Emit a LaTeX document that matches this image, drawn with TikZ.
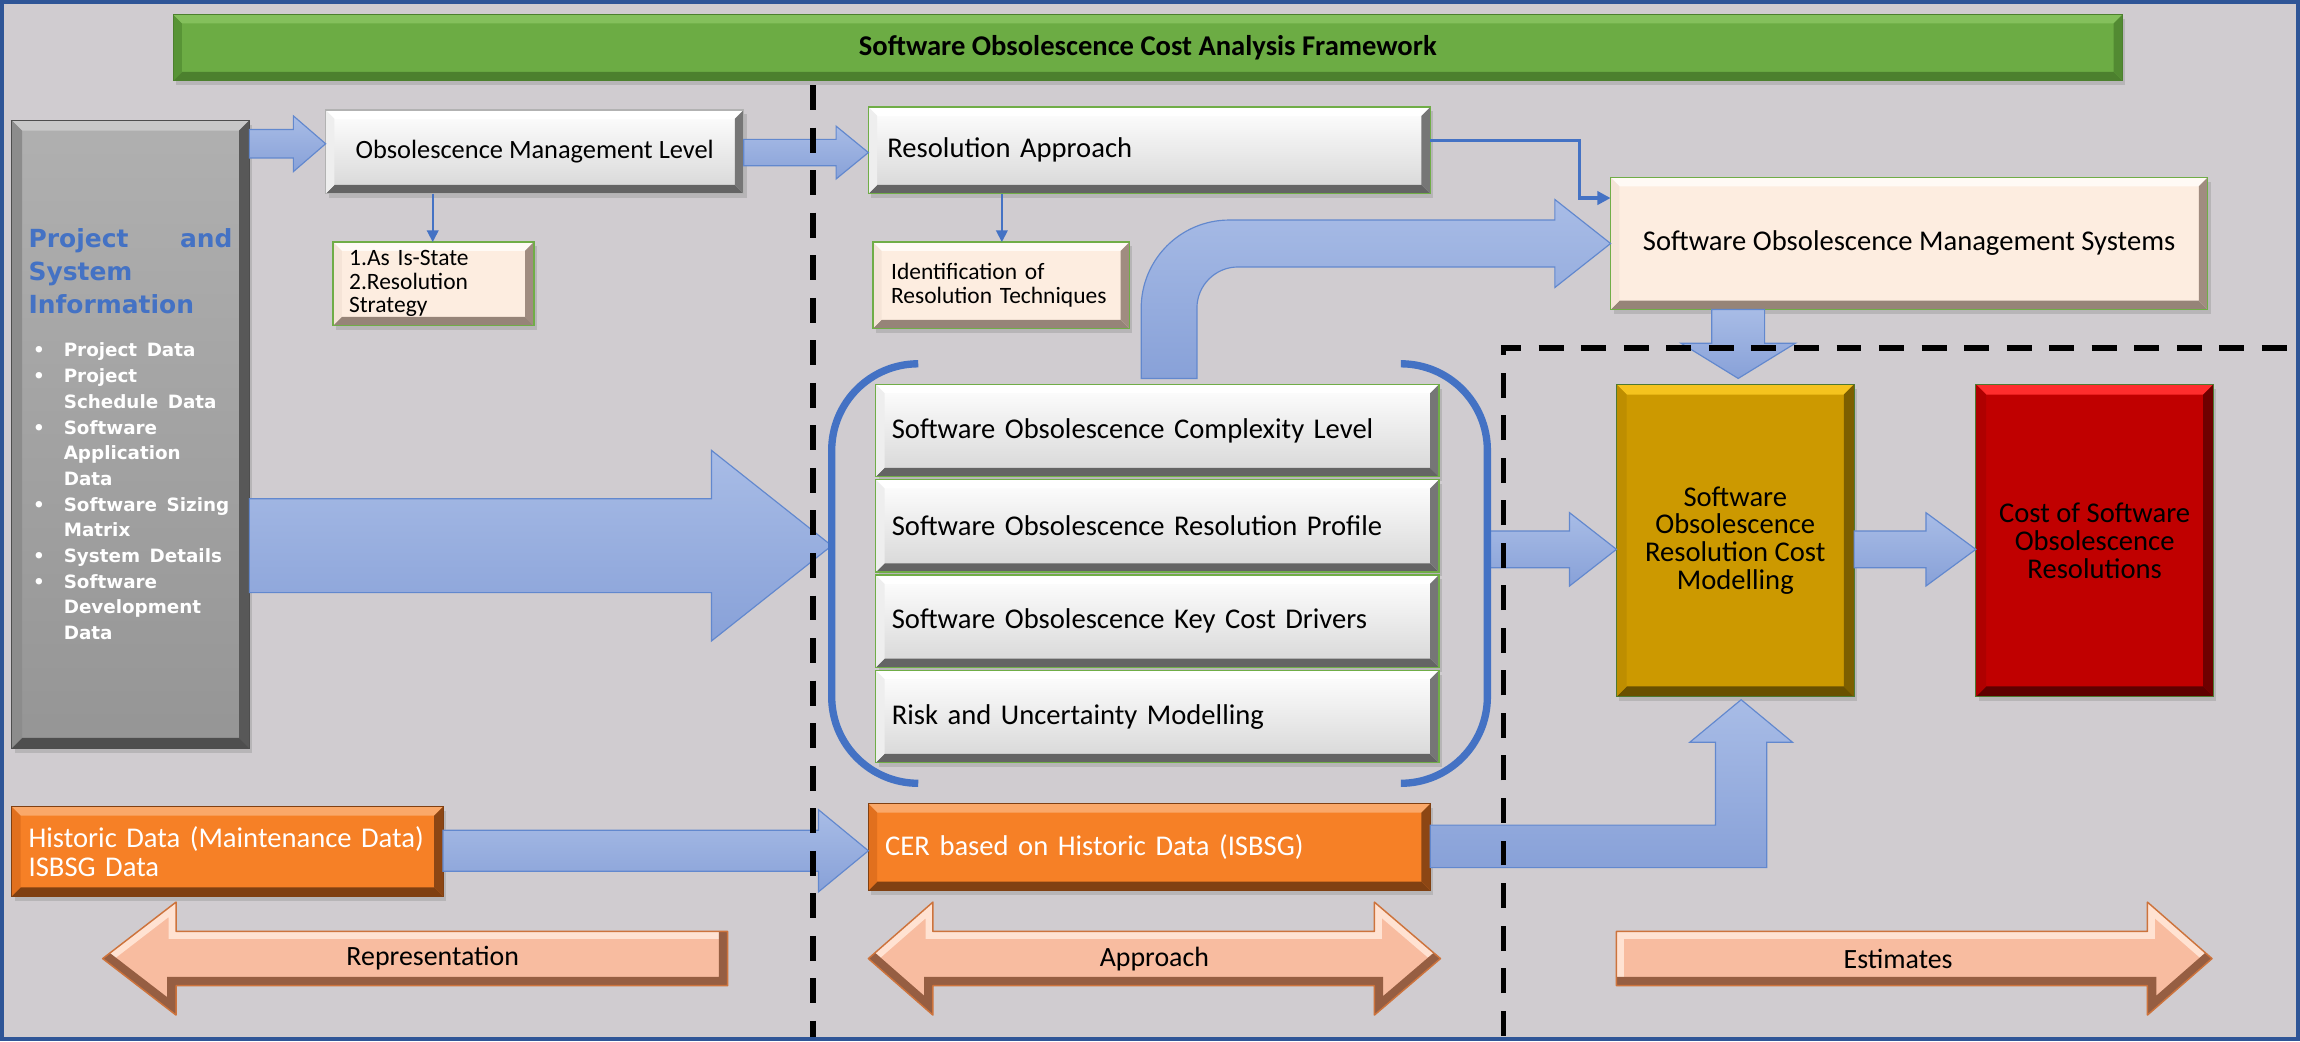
\documentclass[tikz,border=0pt]{standalone}
\usepackage{fontspec}
\setmainfont{Carlito}
\newfontfamily\infofont{DejaVu Sans}
\usetikzlibrary{arrows.meta,calc,shadows}

\definecolor{bgcol}{RGB}{208,204,208}
\definecolor{framecol}{RGB}{47,85,151}
\definecolor{linkblue}{RGB}{68,114,196}
\definecolor{arrowtop}{RGB}{168,188,230}
\definecolor{arrowbot}{RGB}{136,161,216}
\definecolor{arrowedge}{RGB}{98,136,206}
% silver boxes
\definecolor{silvbody}{RGB}{214,214,214}
\definecolor{silvleft}{RGB}{238,238,238}
\definecolor{silvright}{RGB}{118,118,118}
\definecolor{silvbottom}{RGB}{100,100,100}
\definecolor{boxgreen}{RGB}{112,173,71}
% peach boxes
\definecolor{peach}{RGB}{253,237,224}
\definecolor{peachtop}{RGB}{255,250,245}
\definecolor{peachbottom}{RGB}{150,132,120}
\definecolor{peachright}{RGB}{160,140,128}
\definecolor{peachleft}{RGB}{245,228,215}
% gold box
\definecolor{goldbody}{RGB}{204,153,0}
\definecolor{goldtop}{RGB}{245,195,30}
\definecolor{goldbottom}{RGB}{105,80,0}
\definecolor{goldleft}{RGB}{190,142,0}
\definecolor{goldright}{RGB}{125,95,0}
% red box
\definecolor{redbody}{RGB}{192,0,0}
\definecolor{redtop}{RGB}{255,45,45}
\definecolor{redbottom}{RGB}{95,0,0}
\definecolor{redleft}{RGB}{175,0,0}
\definecolor{redright}{RGB}{110,0,0}
% orange boxes
\definecolor{orangebody}{RGB}{246,128,38}
\definecolor{orangetop}{RGB}{250,168,105}
\definecolor{orangebottom}{RGB}{128,64,18}
\definecolor{orangeleft}{RGB}{225,112,30}
\definecolor{orangeright}{RGB}{140,70,20}
% title bar
\definecolor{greenbody}{RGB}{108,172,68}
\definecolor{greentop}{RGB}{132,192,92}
\definecolor{greenbottom}{RGB}{76,128,46}
\definecolor{greenleft}{RGB}{88,148,54}
\definecolor{greenright}{RGB}{82,138,50}
% information panel
\definecolor{graybody}{RGB}{162,162,162}
\definecolor{graytop}{RGB}{200,200,200}
\definecolor{graybottom}{RGB}{78,78,78}
\definecolor{grayleft}{RGB}{140,140,140}
\definecolor{grayright}{RGB}{88,88,88}
\definecolor{infoblue}{RGB}{68,114,196}
% phase arrows
\definecolor{salmon}{RGB}{248,188,160}
\definecolor{salmonlight}{RGB}{255,226,210}
\definecolor{salmondark}{RGB}{150,94,66}
\definecolor{salmonedge}{RGB}{205,115,60}

% horizontal block arrow: start, end, shaft half width, head half width, head length
\newcommand\hblock[5]{%
  \path[blockarrow] let \p1=(#1), \p2=(#2) in
    (\x1,\y1+#3) -- (\x2-#5,\y1+#3) -- (\x2-#5,\y1+#4) -- (\x2,\y1)
    -- (\x2-#5,\y1-#4) -- (\x2-#5,\y1-#3) -- (\x1,\y1-#3) -- cycle;}

% bevelled phase arrow: outline, lit edges, shaded edges
\newcommand\phasearrow[3]{%
  \begin{scope}
    \clip #1;
    \fill[salmon] #1;
    \draw[salmonlight, line width=10pt] #2;
    \draw[salmondark, line width=12pt] #3;
  \end{scope}
  \draw[salmonedge, line width=1pt, line join=round] #1;}

% one bulleted entry of the information panel
\newcommand\infoitem[1]{\par\hangindent=24pt\hangafter=1\noindent
  \makebox[24pt][l]{\hspace{3pt}•}#1}

\begin{document}
\begin{tikzpicture}[x=1pt,y=1pt,
  bevel w/.store in=\bevw, bevel w=6,
  bevel/.style n args={4}{path picture={
    \fill[#1] (path picture bounding box.north west) -- (path picture bounding box.north east)
      -- ([shift={(-\bevw,-\bevw)}]path picture bounding box.north east)
      -- ([shift={(\bevw,-\bevw)}]path picture bounding box.north west) -- cycle;
    \fill[#2] (path picture bounding box.south west) -- (path picture bounding box.south east)
      -- ([shift={(-\bevw,\bevw)}]path picture bounding box.south east)
      -- ([shift={(\bevw,\bevw)}]path picture bounding box.south west) -- cycle;
    \fill[#3] (path picture bounding box.north west) -- (path picture bounding box.south west)
      -- ([shift={(\bevw,\bevw)}]path picture bounding box.south west)
      -- ([shift={(\bevw,-\bevw)}]path picture bounding box.north west) -- cycle;
    \fill[#4] (path picture bounding box.north east) -- (path picture bounding box.south east)
      -- ([shift={(-\bevw,\bevw)}]path picture bounding box.south east)
      -- ([shift={(-\bevw,-\bevw)}]path picture bounding box.north east) -- cycle;
  }},
  box/.style={anchor=north west, inner sep=0pt, outer sep=0pt,
    font=\fontsize{19.5}{21}\selectfont,
    drop shadow={shadow xshift=2pt, shadow yshift=-3pt, opacity=0.3}},
  silverbox/.style={box, top color=white, bottom color=silvbody, draw=boxgreen,
    line width=0.8pt, bevel={white}{silvbottom}{silvleft}{silvright}},
  peachbox/.style={box, fill=peach, draw=boxgreen, line width=1pt,
    bevel={peachtop}{peachbottom}{peachleft}{peachright}},
  goldbox/.style={box, fill=goldbody, draw=boxgreen!70!black, line width=0.8pt, bevel w=7,
    bevel={goldtop}{goldbottom}{goldleft}{goldright}},
  redbox/.style={box, fill=redbody, draw=boxgreen!70!black, line width=0.8pt, bevel w=7,
    bevel={redtop}{redbottom}{redleft}{redright}},
  orangebox/.style={box, fill=orangebody, draw=orangebottom, line width=0.6pt,
    text=white, bevel={orangetop}{orangebottom}{orangeleft}{orangeright}},
  greenbox/.style={box, fill=greenbody, draw=greenbottom, line width=0.6pt,
    bevel={greentop}{greenbottom}{greenleft}{greenright}},
  graybox/.style={box, top color=graybody!85!white, bottom color=graybody!92!black,
    draw=graybottom, line width=0.6pt, bevel w=7,
    bevel={graytop}{graybottom}{grayleft}{grayright}},
  blockarrow/.style={top color=arrowtop, bottom color=arrowbot, draw=arrowedge, line width=0.8pt},
  thinlink/.style={draw=linkblue, line width=1.2pt, -{Triangle[length=8pt,width=8pt]}},
  boldlink/.style={draw=linkblue, line width=2.2pt, -{Triangle[length=9pt,width=9pt]}},
  separator/.style={draw=black, line width=4pt, dash pattern=on 17pt off 12pt},
  bracket/.style={draw=linkblue, line width=5pt},
  phaselabel/.style={font=\fontsize{19}{21}\selectfont, inner sep=0pt}
]
\useasboundingbox (0,0) rectangle (1568,-710);
\fill[bgcol] (0,0) rectangle (1568,-710);

% ---- title ----
\node[greenbox, minimum width=1329pt, minimum height=45pt,
      font=\bfseries\fontsize{19.5}{21}\selectfont] (title) at (118,-10)
  {Software Obsolescence Cost Analysis Framework};

% ---- project and system information ----
\node[graybox, minimum width=162pt, minimum height=428pt, text width=139pt, align=left] (info) at (8,-82) {%
  {\infofont\bfseries\color{infoblue}\fontsize{17}{22.5}\selectfont
   \makebox[139pt][l]{Project\hfill and}\newline System\newline Information\par}%
  \vspace{12pt}%
  {\infofont\bfseries\color{white}\fontsize{12.5}{17.5}\selectfont
   \infoitem{Project Data}
   \infoitem{Project\newline Schedule Data}
   \infoitem{Software\newline Application\newline Data}
   \infoitem{Software Sizing\newline Matrix}
   \infoitem{System Details}
   \infoitem{Software\newline Development\newline Data}\par}};

% ---- management level ----
\node[silverbox, draw=gray!60, minimum width=285pt, minimum height=57pt, align=center,
      font=\fontsize{18}{20}\selectfont] (oml) at (222,-75) {Obsolescence Management Level};
\node[peachbox, minimum width=137pt, minimum height=57pt, text width=115pt, align=left,
      font=\fontsize{16}{16}\selectfont] (state) at (227,-165)
  {1.As Is-State\\ 2.Resolution\\ Strategy};

% ---- resolution approach ----
\node[silverbox, minimum width=383pt, minimum height=59pt, text width=357pt, align=left] (ra) at (592,-73)
  {Resolution Approach};
\node[peachbox, minimum width=175pt, minimum height=59pt, text width=150pt, align=left,
      font=\fontsize{16}{16.5}\selectfont] (ident) at (595,-165)
  {Identification of\\ Resolution Techniques};

% ---- management systems ----
\node[peachbox, minimum width=407pt, minimum height=90pt, align=center] (soms) at (1098,-121)
  {Software Obsolescence Management Systems};

% ---- analysis stack ----
\node[silverbox, minimum width=384pt, minimum height=63pt, text width=362pt, align=left] (c1) at (597,-262)
  {Software Obsolescence Complexity Level};
\node[silverbox, minimum width=384pt, minimum height=63pt, text width=362pt, align=left] (c2) at (597,-327)
  {Software Obsolescence Resolution Profile};
\node[silverbox, minimum width=384pt, minimum height=63pt, text width=362pt, align=left] (c3) at (597,-392)
  {Software Obsolescence Key Cost Drivers};
\node[silverbox, minimum width=384pt, minimum height=63pt, text width=362pt, align=left] (c4) at (597,-457)
  {Risk and Uncertainty Modelling};
\node[anchor=north west, inner sep=0pt, outer sep=0pt, minimum width=447pt, minimum height=286pt] (grp) at (567,-248) {};

% ---- estimates ----
\node[goldbox, minimum width=162pt, minimum height=213pt, align=center,
      font=\fontsize{19.5}{19}\selectfont] (gold) at (1102,-262)
  {Software\\ Obsolescence\\ Resolution Cost\\ Modelling};
\node[redbox, minimum width=162pt, minimum height=213pt, align=center,
      font=\fontsize{19.5}{19}\selectfont] (red) at (1347,-262)
  {Cost of Software\\ Obsolescence\\ Resolutions};

% ---- historic data ----
\node[orangebox, minimum width=294pt, minimum height=61pt, text width=271pt, align=left,
      font=\fontsize{19.5}{19.5}\selectfont] (hist) at (8,-550)
  {Historic Data (Maintenance Data)\\ ISBSG Data};
\node[orangebox, minimum width=383pt, minimum height=59pt, text width=360pt, align=left] (cer) at (592,-548)
  {CER based on Historic Data (ISBSG)};

% ---- block arrows ----
\hblock{info.east |- 0,-98}{oml.west}{9.7}{19}{22}
\hblock{oml.east |- 0,-104}{ra.west}{9}{18}{22}
\hblock{info.east |- 0,-372}{grp.west}{32}{65}{82}
\hblock{grp.east |- 0,-374.5}{gold.west}{12.5}{25}{32}
\hblock{gold.east |- 0,-374.5}{red.west}{12.5}{25}{34}
\hblock{hist.east |- 0,-580}{cer.west}{14}{28}{34}

% management systems down into the cost model
\path[blockarrow] let \p1=(soms.south), \p2=(gold.north) in
  (\x2-16,\y1) -- (\x2-16,\y2+28) -- (\x2-37,\y2+28) -- (\x2+2,\y2+4)
  -- (\x2+41,\y2+28) -- (\x2+20,\y2+28) -- (\x2+20,\y1) -- cycle;

% historic estimate relationship up into the cost model
\path[blockarrow] let \p1=(cer.east), \p2=([xshift=4pt,yshift=-2pt]gold.south) in
  (\x1,\y1+15) -- (\x2-17.5,\y1+15) -- (\x2-17.5,\y2-29) -- (\x2-35,\y2-29) -- (\x2,\y2)
  -- (\x2+35,\y2-29) -- (\x2+17.5,\y2-29) -- (\x2+17.5,\y1-14) -- (\x1,\y1-14) -- cycle;

% analysis stack feeding the management systems
\path[blockarrow] let \p1=(c1.north), \p2=(soms.west) in
  (778,\y1+4) -- (778,\y2+16-60) arc[start angle=180, end angle=90, radius=60]
  -- (1060,\y2+16) -- (1060,\y2+30) -- (\x2,\y2) -- (1060,\y2-30) -- (1060,\y2-16)
  -- (844,\y2-16) arc[start angle=90, end angle=180, radius=28]
  -- (816,\y1+4) -- cycle;

% ---- phase separators ----
\draw[separator] (554,-58) -- (554,-708);
\draw[separator] (1025,-706) -- (1025,-237) -- (1566,-237);

% ---- grouping bracket ----
\draw[bracket] ([xshift=59pt]grp.north west) arc[start angle=90, end angle=180, radius=59]
  -- ([yshift=59pt]grp.south west) arc[start angle=180, end angle=270, radius=59];
\draw[bracket] ([xshift=-59pt]grp.north east) arc[start angle=90, end angle=0, radius=59]
  -- ([yshift=59pt]grp.south east) arc[start angle=0, end angle=-90, radius=59];

% ---- thin links ----
\draw[thinlink] (oml.south -| 295,0) -- (state.north -| 295,0);
\draw[thinlink] (ra.south -| 683,0) -- (ident.north -| 683,0);
\coordinate (bend) at (1077,-135);
\draw[boldlink] (ra.east |- 0,-96) -| (bend) -- (soms.west |- bend);

% ---- phase arrows ----
\phasearrow{(496,-635) -- (120,-635) -- (120,-615) -- (70,-653.5) -- (120,-692) -- (120,-672) -- (496,-672) -- cycle}
  {(496,-635) -- (120,-635) -- (120,-615) -- (70,-653.5)}
  {(70,-653.5) -- (120,-692) -- (120,-672) -- (496,-672) -- (496,-635)}
\node[phaselabel] (rep) at (295,-653.5) {Representation};

\phasearrow{(592,-653.5) -- (636,-615) -- (636,-635) -- (937,-635) -- (937,-615) -- (982,-653.5) -- (937,-692) -- (937,-672) -- (636,-672) -- (636,-692) -- cycle}
  {(592,-653.5) -- (636,-615) -- (636,-635) -- (937,-635) -- (937,-615) -- (982,-653.5)}
  {(982,-653.5) -- (937,-692) -- (937,-672) -- (636,-672) -- (636,-692) -- (592,-653.5)}
\node[phaselabel] (appr) at (787,-653.5) {Approach};

\phasearrow{(1102,-635) -- (1464,-635) -- (1464,-615) -- (1508,-653.5) -- (1464,-692) -- (1464,-672) -- (1102,-672) -- cycle}
  {(1102,-672) -- (1102,-635) -- (1464,-635) -- (1464,-615) -- (1508,-653.5)}
  {(1508,-653.5) -- (1464,-692) -- (1464,-672) -- (1102,-672)}
\node[phaselabel] (est) at (1294,-653.5) {Estimates};

% ---- outer frame ----
\draw[framecol, line width=3pt] (1.5,-1.5) rectangle (1566.5,-708.5);
\end{tikzpicture}
\end{document}
